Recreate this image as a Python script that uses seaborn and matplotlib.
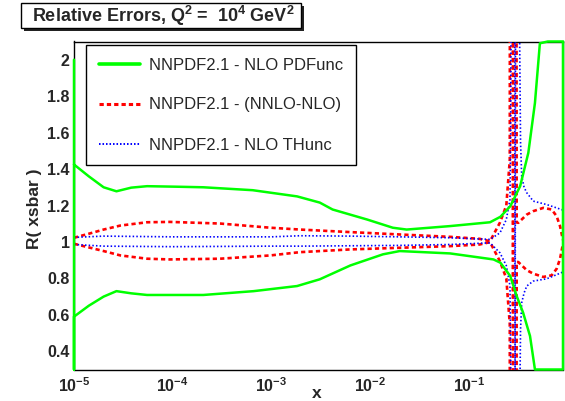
import numpy as np
import pandas as pd
import matplotlib
matplotlib.use("Agg")
import matplotlib.pyplot as plt
from matplotlib.patches import Rectangle
from matplotlib.lines import Line2D
from matplotlib.ticker import FixedLocator, FuncFormatter, NullFormatter
import seaborn as sns

# ---- band edges: log10(x) positions and ratio R to the central NLO value ----
pdf_up_logx = [-5.0, -4.85, -4.70, -4.57, -4.42, -4.26, -3.95, -3.69, -3.19, -2.74, -2.51,
               -2.38, -2.03, -1.77, -1.63, -1.19, -0.785, -0.68, -0.58, -0.48, -0.397,
               -0.33, -0.28, -0.20, -0.046]
pdf_up = [1.425, 1.36, 1.30, 1.278, 1.298, 1.306, 1.303, 1.300, 1.284, 1.250, 1.216,
          1.178, 1.123, 1.078, 1.068, 1.087, 1.108, 1.138, 1.196, 1.306, 1.489,
          1.763, 2.09, 2.8, 4.0]
pdf_lo_logx = [-5.0, -4.85, -4.70, -4.57, -4.42, -4.26, -3.69, -3.18, -2.74, -2.51, -2.2,
               -1.87, -1.70, -1.19, -0.75, -0.68, -0.58, -0.515, -0.45, -0.38, -0.33,
               -0.20, -0.046]
pdf_lo = [0.59, 0.65, 0.70, 0.73, 0.718, 0.709, 0.709, 0.73, 0.758, 0.795, 0.871,
          0.932, 0.95, 0.937, 0.904, 0.886, 0.813, 0.703, 0.612, 0.484, 0.30,
          0.0, -0.4]
pdf_left_edge = [0.3, 2.0]

nnlo_logx = [-5.0, -4.85, -4.70, -4.53, -4.26, -4.03, -3.52, -3.01, -2.71, -2.2, -1.7,
             -1.19, -0.89, -0.785, -0.684, -0.62, -0.585, -0.562, -0.542, -0.515,
             -0.499, -0.413, -0.347, -0.245, -0.16, -0.11, -0.076, -0.046]
nnlo_a = [1.023, 1.045, 1.068, 1.09, 1.108, 1.11, 1.101, 1.078, 1.068, 1.054, 1.041,
          1.028, 1.017, 1.004, 1.107, 1.20, 1.45, 20.0, -20.0, 0.89,
          0.89, 0.845, 0.826, 0.808, 0.817, 0.853, 0.907, 0.99]
nnlo_b = [0.99, 0.97, 0.95, 0.926, 0.908, 0.904, 0.908, 0.926, 0.944, 0.959, 0.968,
          0.977, 0.986, 0.999, 0.893, 0.80, 0.55, -20.0, 20.0, 1.107,
          1.105, 1.15, 1.169, 1.187, 1.178, 1.141, 1.087, 1.01]

thunc_logx = [-5.0, -4.7, -4.0, -3.0, -2.71, -2.2, -1.7, -1.19, -0.785, -0.684, -0.62,
              -0.583, -0.576, -0.570, -0.565, -0.497, -0.488, -0.476, -0.464, -0.44,
              -0.413, -0.347, -0.21, -0.046]
thunc_a = [1.025, 1.032, 1.028, 1.028, 1.034, 1.032, 1.028, 1.023, 1.014, 1.05, 1.123,
           1.233, 1.6, 2.5, 20.0, -20.0, -0.1, 0.52, 0.667, 0.72,
           0.758, 0.785, 0.798, 0.835]
thunc_b = [0.986, 0.977, 0.974, 0.977, 0.977, 0.979, 0.981, 0.986, 0.995, 0.94, 0.87,
           0.76, 0.4, -0.5, -20.0, 20.0, 2.3, 1.55, 1.36, 1.30,
           1.27, 1.224, 1.205, 1.175]

y_ticks = [0.4, 0.6, 0.8, 1.0, 1.2, 1.4, 1.6, 1.8, 2.0]
x_decades = [-5, -4, -3, -2, -1]
x_range = (1e-5, 0.9)
y_range = (0.3, 2.1)

labels = ["NNPDF2.1 - NLO PDFunc", "NNPDF2.1 - (NNLO-NLO)", "NNPDF2.1 - NLO THunc"]

sns.set_style("white")
plt.rcParams['font.family'] = ['Liberation Sans', 'DejaVu Sans']
plt.rcParams['mathtext.fontset'] = 'custom'
plt.rcParams['mathtext.rm'] = 'Liberation Sans'
plt.rcParams['mathtext.it'] = 'Liberation Sans:italic'
plt.rcParams['mathtext.bf'] = 'Liberation Sans:bold'

W, H = 565, 401
fig = plt.figure(figsize=(W / 100, H / 100), dpi=100)
ax = fig.add_axes([74 / W, 1 - 369.5 / H, (563 - 74) / W, (369.5 - 41.5) / H])

GREEN, RED, BLUE = "#00ff00", "#ff0000", "#0000ff"
red_ls = (0, (1.6, 1.2))
blue_ls = (0, (0.9, 1.3))

# PDF band outline: upper edge, then lower edge back, clipped to the frame
gx = np.concatenate([np.array(pdf_up_logx), np.array(pdf_lo_logx)[::-1],
                     [pdf_lo_logx[0]] * len(pdf_left_edge)])
gy = np.concatenate([pdf_up, pdf_lo[::-1], pdf_left_edge])
gy = np.clip(gy, *y_range)
green_df = pd.DataFrame({"x": 10 ** gx, "R": gy})
sns.lineplot(data=green_df, x="x", y="R", sort=False, estimator=None, color=GREEN,
             lw=1.8, ax=ax, clip_on=False, zorder=4)

for vals in (nnlo_a, nnlo_b):
    df = pd.DataFrame({"x": 10 ** np.array(nnlo_logx), "R": vals})
    sns.lineplot(data=df, x="x", y="R", sort=False, estimator=None, color=RED,
                 lw=1.9, linestyle=red_ls, ax=ax, zorder=3)

for vals in (thunc_a, thunc_b):
    df = pd.DataFrame({"x": 10 ** np.array(thunc_logx), "R": vals})
    sns.lineplot(data=df, x="x", y="R", sort=False, estimator=None, color=BLUE,
                 lw=1.2, linestyle=blue_ls, ax=ax, zorder=3)

ax.set_xscale("log")
ax.set_xlim(*x_range)
ax.set_ylim(*y_range)

# axes decoration
for s in ax.spines.values():
    s.set_color("black")
    s.set_linewidth(1.0)
ax.xaxis.set_major_locator(FixedLocator([10.0 ** d for d in x_decades]))
minor_x = [m * 10.0 ** d for d in x_decades for m in range(2, 10) if m * 10.0 ** d < x_range[1]]
ax.xaxis.set_minor_locator(FixedLocator(minor_x))
ax.xaxis.set_minor_formatter(NullFormatter())
ax.xaxis.set_major_formatter(FuncFormatter(
    lambda v, _: r"$\mathbf{10^{%d}}$" % int(round(np.log10(v)))))
ax.yaxis.set_major_locator(FixedLocator(y_ticks))
ax.yaxis.set_minor_locator(FixedLocator(np.arange(0.35, 2.1, 0.05)))
ax.yaxis.set_major_formatter(FuncFormatter(lambda v, _: f"{v:g}"))

ax.tick_params(axis="x", which="major", direction="in", length=6.5, width=0.8,
               color="#333333", pad=5, labelsize=11.5)
ax.tick_params(axis="x", which="minor", direction="in", length=3.2, width=0.8,
               color="#333333")
ax.tick_params(axis="y", which="major", direction="in", length=10.8, width=0.8,
               color="#333333", pad=3, labelsize=11.5)
ax.tick_params(axis="y", which="minor", direction="in", length=5.0, width=0.8,
               color="#333333")
ax.tick_params(top=False, right=False, which="both")
for lab in ax.get_yticklabels():
    lab.set_fontweight("bold")

ax.set_xlabel("x", fontsize=12.5, fontweight="bold")
ax.xaxis.label.set_va("center")
ax.xaxis.set_label_coords(0.497, -0.074)
ax.set_ylabel("R( xsbar )", fontsize=12.5, fontweight="bold")
ax.yaxis.label.set_va("center")
ax.yaxis.set_label_coords(-0.080, 0.49)

# legend
handles = [Line2D([], [], color=GREEN, lw=2.6),
           Line2D([], [], color=RED, lw=2.2, linestyle=(0, (1.4, 1.0))),
           Line2D([], [], color=BLUE, lw=1.4, linestyle=(0, (0.8, 1.0)))]
leg = ax.legend(handles, labels, loc="upper left",
                bbox_to_anchor=(86 / W, 1 - 45 / H), bbox_transform=fig.transFigure,
                fontsize=12, frameon=True, fancybox=False, shadow=False,
                borderaxespad=0, borderpad=0.75, handlelength=2.5, handletextpad=0.55,
                labelspacing=1.5, framealpha=1)
leg.get_frame().set_edgecolor("black")
leg.get_frame().set_linewidth(1.0)
leg.set_zorder(10)

# title box with drop shadow
bx0, by0, bx1, by1 = 21, 3, 301, 28
fig.patches.append(Rectangle(((bx0 + 3) / W, 1 - (by1 + 3) / H),
                             (bx1 - bx0) / W, (by1 - by0) / H, transform=fig.transFigure,
                             facecolor="#222222", edgecolor="none", zorder=1))
fig.patches.append(Rectangle((bx0 / W, 1 - by1 / H), (bx1 - bx0) / W, (by1 - by0) / H,
                             transform=fig.transFigure, facecolor="white",
                             edgecolor="black", lw=1.0, zorder=2))
fig.text(32 / W, 1 - 16 / H, r"Relative Errors, Q$^{\mathbf{2}}$ =  10$^{\mathbf{4}}$ GeV$^{\mathbf{2}}$",
         fontsize=13, fontweight="bold", ha="left", va="center", zorder=3)

fig.savefig("out.png", dpi=100, facecolor="white")
